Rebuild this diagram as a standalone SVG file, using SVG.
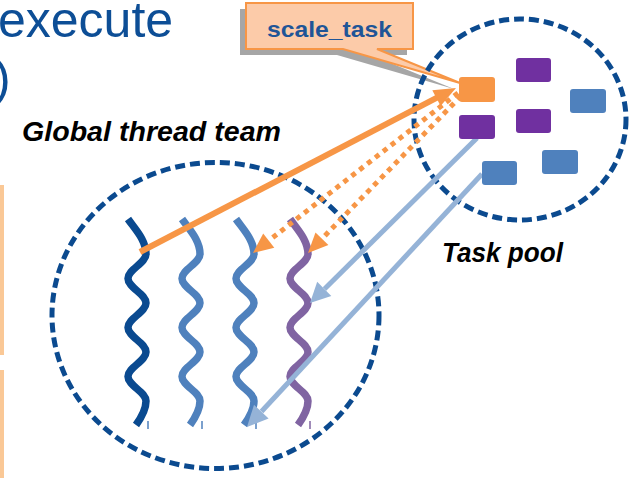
<svg xmlns="http://www.w3.org/2000/svg" xmlns:xlink="http://www.w3.org/1999/xlink" width="635" height="478" viewBox="0 0 635 478">
<style>
.title{font-family:"Liberation Sans",Arial,sans-serif;font-size:50px;fill:#0D4E96}
.lbl{font-family:"Liberation Sans",Arial,sans-serif;font-weight:bold;font-style:italic;font-size:27px;fill:#000}
.pool{fill:none;stroke:#0B4A8F;stroke-width:5;stroke-dasharray:10 5}
.wave{fill:none;stroke-width:7.5}
.tick{stroke-width:1.5}
.orange{fill:#F79646}
.purple{fill:#7030A0}
.blue{fill:#4F81BD}
.conn-solid{fill:none;stroke:#F79646;stroke-width:6}
.conn-dot{fill:none;stroke:#F79646;stroke-width:5;stroke-dasharray:5 5}
.conn-lb{fill:none;stroke:#95B3D7;stroke-width:5}
.head-o{fill:#F79646}
.head-lb{fill:#95B3D7}
</style>
<defs>
<path id="wave" d="M -9,219 C -2,229 9,240 9,254 C 9,263 -9,269.5 -9,278.5 C -9,287.5 9,294 9,303 C 9,312 -9,318.5 -9,327.5 C -9,336.5 9,343 9,352 C 9,361 -9,367.5 -9,376.5 C -9,385.5 9,392 9,401 C 9,410 4,418 -1,425"/>
</defs>

<!-- background fragments -->
<text class="title" x="-2" y="37">execute</text>
<text class="title" x="-6" y="95">)</text>
<rect x="0" y="185" width="4" height="170" fill="#FAC896"/>
<rect x="0" y="370" width="4" height="108" fill="#FAC896"/>

<!-- callout -->
<g id="callout-scale-task">
<path d="M240,9 H407 V55 H371 L454,89 L337,55 H240 Z" fill="#A6A6A6"/>
<path d="M246,3 H413 V49 H377 L460,83 L343,49 H246 Z" fill="#FCCBA9" stroke="#F79646" stroke-width="2" stroke-linejoin="miter"/>
<text x="329.5" y="37" text-anchor="middle" textLength="125" lengthAdjust="spacingAndGlyphs" font-family="'Liberation Sans',Arial,sans-serif" font-weight="bold" font-size="22" fill="#1F5597">scale_task</text>
</g>

<!-- thread team -->
<g id="thread-team">
<ellipse class="pool" cx="215.5" cy="315.5" rx="163.5" ry="153"/>
<text class="lbl" x="22" y="141" textLength="259" lengthAdjust="spacingAndGlyphs">Global thread team</text>
</g>

<!-- task pool -->
<g id="task-pool">
<ellipse class="pool" cx="520" cy="119.5" rx="106" ry="100.5"/>
<text class="lbl" x="442" y="262" textLength="121" lengthAdjust="spacingAndGlyphs">Task pool</text>
</g>

<!-- threads -->
<g id="thread-1">
<use xlink:href="#wave" href="#wave" x="137" class="wave" stroke="#0A4A90"/>
<line class="tick" x1="148" y1="421" x2="148" y2="429" stroke="#4F81BD"/>
</g>
<g id="thread-2">
<use xlink:href="#wave" href="#wave" x="191" class="wave" stroke="#4F81BD"/>
<line class="tick" x1="202" y1="421" x2="202" y2="429" stroke="#4F81BD"/>
</g>
<g id="thread-3">
<use xlink:href="#wave" href="#wave" x="245" class="wave" stroke="#4F81BD"/>
<line class="tick" x1="256" y1="421" x2="256" y2="429" stroke="#4F81BD"/>
</g>
<g id="thread-4">
<use xlink:href="#wave" href="#wave" x="299" class="wave" stroke="#8064A2"/>
<line class="tick" x1="310" y1="421" x2="310" y2="429" stroke="#8064A2"/>
</g>

<!-- connectors -->
<g id="connectors">
<line class="conn-solid" x1="140" y1="252" x2="438" y2="97.2"/>
<polygon class="head-o" points="456,88 440.6,106.1 432.3,90.2"/>

<line class="conn-dot" x1="458" y1="93" x2="269" y2="240.5"/>
<polygon class="head-o" points="253,253 263.2,233.6 274.3,247.8"/>

<line class="conn-dot" x1="461" y1="96" x2="322" y2="238.7"/>
<polygon class="head-o" points="308,253 315.5,232.4 328.4,245"/>

<line class="conn-lb" x1="477" y1="138" x2="324.5" y2="289"/>
<polygon class="head-lb" points="310,303 317.2,281.8 331.3,296"/>

<line class="conn-lb" x1="482" y1="174" x2="261.5" y2="411.5"/>
<polygon class="head-lb" points="247,427 254,404.8 268.6,418.4"/>
</g>

<!-- tasks -->
<g id="task-orange"><rect class="orange" x="459" y="77" width="36" height="25" rx="3"/></g>
<g id="task-purple-1"><rect class="purple" x="516" y="58" width="35" height="24" rx="3"/></g>
<g id="task-blue-1"><rect class="blue" x="570" y="89" width="36" height="24" rx="3"/></g>
<g id="task-purple-2"><rect class="purple" x="459" y="115" width="36" height="24" rx="3"/></g>
<g id="task-purple-3"><rect class="purple" x="516" y="109" width="35" height="24" rx="3"/></g>
<g id="task-blue-2"><rect class="blue" x="542" y="150" width="36" height="24" rx="3"/></g>
<g id="task-blue-3"><rect class="blue" x="482" y="161" width="35" height="24" rx="3"/></g>
</svg>
